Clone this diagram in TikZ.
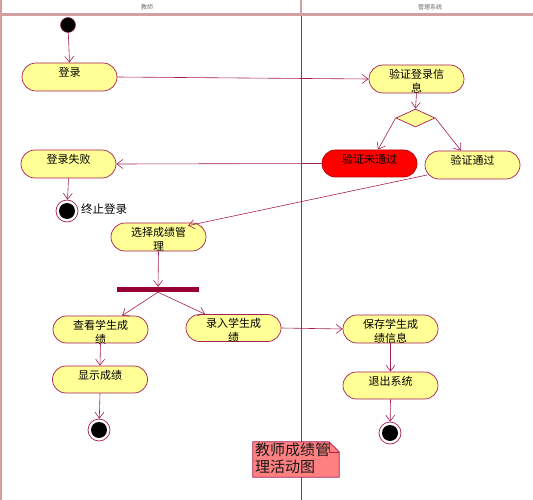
\documentclass[tikz,border=0pt]{standalone}
\usepackage{fontspec}
\newfontfamily\cjk{Noto Sans CJK SC}
\usetikzlibrary{shapes.misc,shapes.geometric,arrows.meta}
\definecolor{linec}{RGB}{165,30,85}
\definecolor{lanec}{RGB}{160,40,90}
\definecolor{actfill}{RGB}{255,255,150}
\definecolor{forkc}{RGB}{150,0,50}
\definecolor{hdrc}{RGB}{210,160,160}
\definecolor{notefill}{RGB}{255,128,128}
\tikzset{
  act/.style={rounded rectangle, draw=linec, fill=actfill, line width=0.7pt,
    minimum width=95pt, minimum height=28pt, inner sep=0pt},
  txt/.style={font=\cjk\fontsize{11}{14}\selectfont, align=center, inner sep=0pt, anchor=north, yshift=-4pt},
  flow/.style={draw=linec, line width=0.6pt, -{Straight Barb[length=6pt,width=9pt]}},
  startst/.style={circle, fill=black, draw=linec, line width=0.5pt, minimum size=15pt, inner sep=0pt},
  endst/.style={circle, fill=white, draw=linec, line width=0.7pt, minimum size=22pt, inner sep=0pt},
  hdr/.style={font=\cjk\fontsize{6}{7}\selectfont, text=black!60, inner sep=0pt},
}
\begin{document}
\begin{tikzpicture}[x=1pt,y=-1pt]
\useasboundingbox (0,0) rectangle (533,500);
% swimlanes
\draw[hdrc, line width=3pt] (0,15) -- (533,15);
\draw[hdrc, line width=2pt] (1,0) -- (1,500);
\draw[hdrc, line width=1.5pt] (301,0) -- (301,15);
\draw[lanec, line width=0.8pt] (301,16) -- (301,500);
\node[hdr] (h1) at (147,7) {教师};
\node[hdr] (h2) at (430,7) {管理系统};

% start
\node[startst] (start) at (68,25) {};
% activities
\node[act, label={[txt]north:登录}] (login) at (69.5,77) {};
\node[act, label={[txt]north:验证登录信\\息}] (verify) at (416.5,79) {};
\node[diamond, draw=linec, fill=actfill, line width=0.7pt, minimum width=39pt, minimum height=18pt, inner sep=0pt] (dec) at (415.5,118) {};
\node[act, fill=red, draw=red!70!black, minimum height=27pt, label={[txt]north:验证未通过}] (nopass) at (369.5,163.5) {};
\node[act, label={[txt]north:验证通过}] (pass) at (472.5,165) {};
\node[act, label={[txt]north:登录失败}] (fail) at (68.5,164) {};
\node[endst] (end1) at (67,211) {};
\fill (end1) circle (8pt);
\node[font=\cjk\fontsize{11.5}{14}\selectfont, anchor=west, inner sep=0pt] (endlbl) at (81,209) {终止登录};
\node[act, label={[txt]north:选择成绩管\\理}] (select) at (158.5,237) {};
\node[rectangle, fill=forkc, minimum width=82pt, minimum height=5pt, inner sep=0pt] (fork) at (158,289.5) {};
\node[act, minimum height=27pt, label={[txt]north:查看学生成\\绩}] (look) at (100.5,329.5) {};
\node[act, minimum height=27pt, label={[txt]north:录入学生成\\绩}] (entry) at (233.5,328) {};
\node[act, minimum height=27pt, label={[txt]north:显示成绩}] (show) at (100,379.5) {};
\node[endst] (end2) at (99,430) {};
\fill (end2) circle (8pt);
\node[act, label={[txt]north:保存学生成\\绩信息}] (save) at (390.5,329) {};
\node[act, minimum height=27pt, label={[txt]north:退出系统}] (quit) at (390.5,385.5) {};
\node[endst] (end3) at (390,433) {};
\fill (end3) circle (8pt);

% note
\node[minimum width=86pt, minimum height=35pt, inner sep=0pt] (note) at (296,459.5) {};
\filldraw[fill=notefill, draw=linec, line width=0.7pt]
  (note.north west) -- ([xshift=-10pt]note.north east) -- ([yshift=-10pt]note.north east)
  -- (note.south east) -- (note.south west) -- cycle;
\draw[linec, line width=0.6pt] ([xshift=-10pt]note.north east) -- ([xshift=-10pt,yshift=-10pt]note.north east) -- ([yshift=-10pt]note.north east);
\node[font=\cjk\fontsize{15}{16.5}\selectfont, align=left, anchor=north west, inner sep=0pt, text=black!90] (notetxt) at ([xshift=2pt,yshift=-1pt]note.north west) {教师成绩管\\理活动图};

% flows
\draw[flow] (start) -- (login.north);
\draw[flow] (login.east) -- (verify.west);
\draw[flow] (verify.south) -- (dec.north);
\draw[flow] (dec.west) -- ([xshift=8.5pt]nopass.north);
\draw[flow] (dec.east) -- ([xshift=-11.5pt]pass.north);
\draw[flow] (nopass.west) -- (fail.east);
\draw[flow] (fail.south) -- (end1);
\draw[flow] ([shift={(-45.5,10)}]pass.center) -- ([xshift=-4pt,yshift=-3pt]select.north east);
\draw[flow] (select.south) -- (fork.north);
\draw[flow] (fork.south) -- ([xshift=21.5pt]look.north);
\draw[flow] (fork.south) -- ([xshift=-28.5pt]entry.north);
\draw[flow] (look.south) -- (show.north);
\draw[flow] (show.south) -- (end2);
\draw[flow] (entry.east) -- (save.west);
\draw[flow] (save.south) -- (quit.north);
\draw[flow] (quit.south) -- (end3);
\end{tikzpicture}
\end{document}
